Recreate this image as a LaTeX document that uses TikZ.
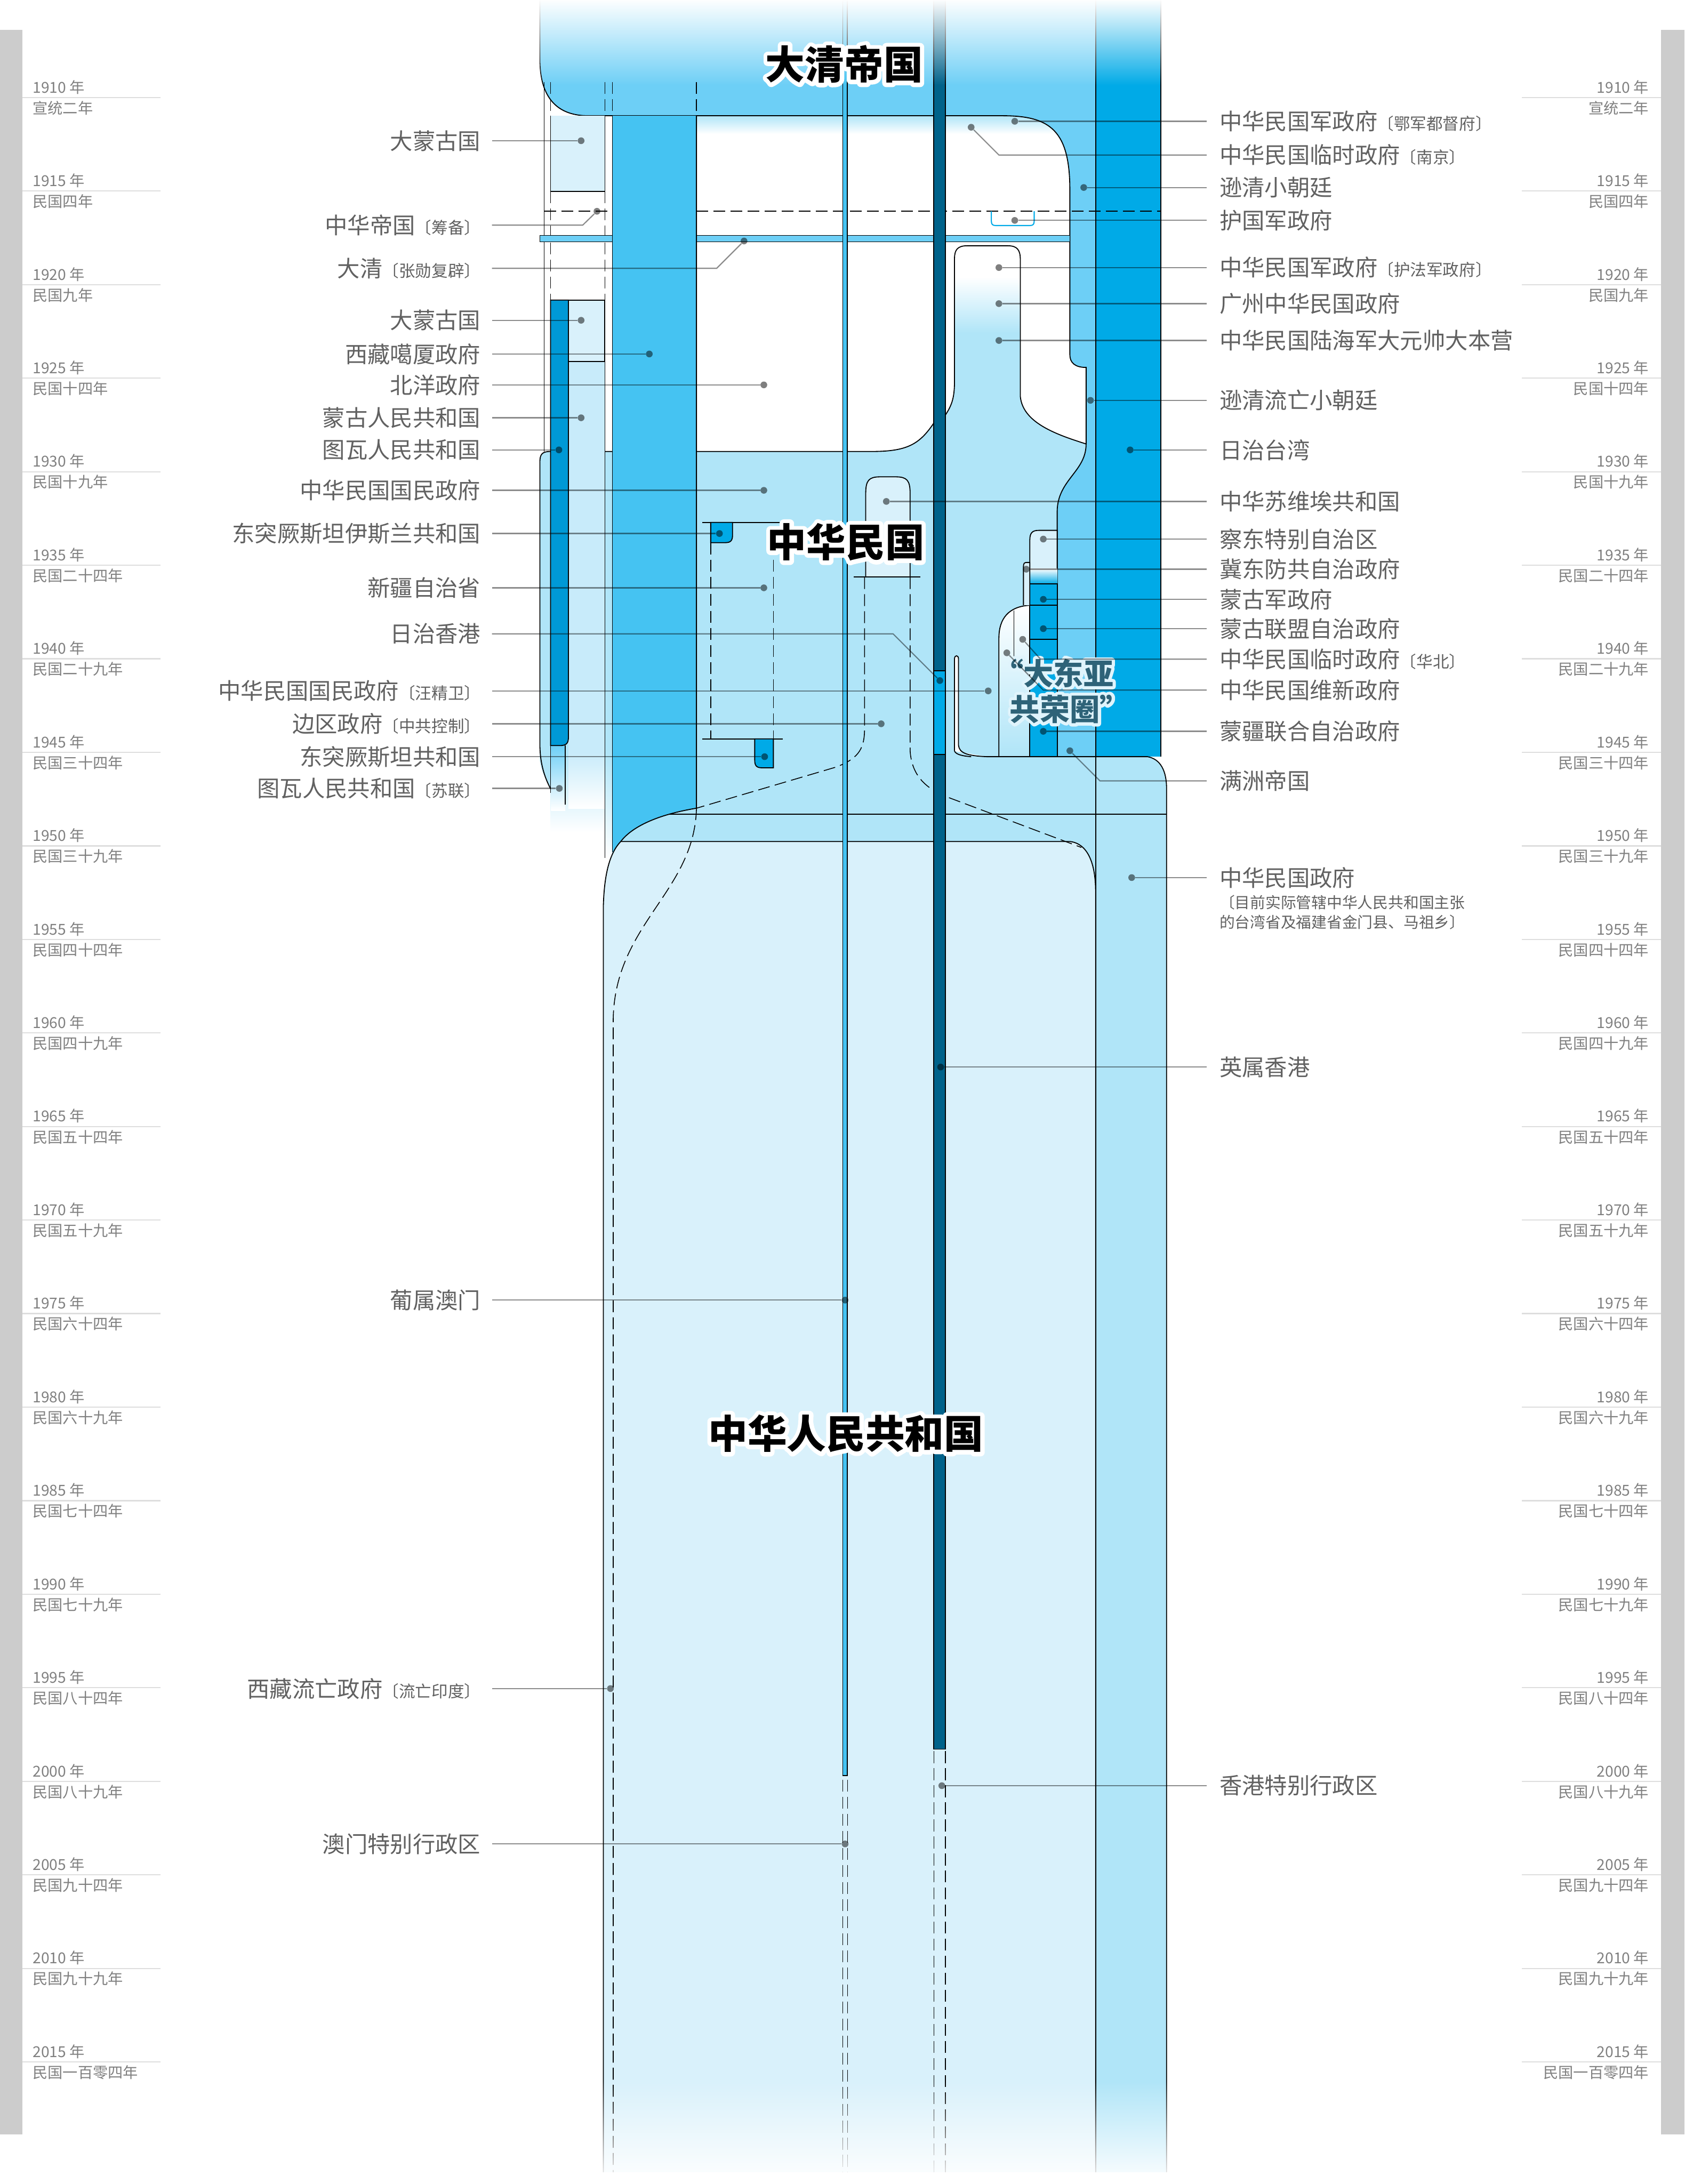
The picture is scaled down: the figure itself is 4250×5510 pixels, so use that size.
\documentclass[tikz,border=0pt]{standalone}
\usepackage{fontspec}
\usepackage{tikz}
\usetikzlibrary{fadings}
\newfontfamily\cjk{Noto Sans CJK SC}
\definecolor{qianLan}{HTML}{D9F1FB}
\definecolor{mengLan}{HTML}{C8EBFA}
\definecolor{minguoLan}{HTML}{B0E5F8}
\definecolor{qingLan}{HTML}{6DCFF6}
\definecolor{xizangLan}{HTML}{45C3F2}
\definecolor{taiwanLan}{HTML}{00AAE7}
\definecolor{tuwaLan}{HTML}{0099D6}
\definecolor{xianggangLan}{HTML}{00628A}
\definecolor{huiBian}{HTML}{CCCCCC}
\definecolor{gongrongZi}{HTML}{2E6378}
\definecolor{gongrongBian}{HTML}{E0F4FC}
\tikzfading[name=dingFade, top color=transparent!0, bottom color=transparent!100]
\tikzfading[name=diFade, top color=transparent!100, bottom color=transparent!0]
\newcommand{\kuohao}[1]{{\fontsize{11.7}{13}\selectfont〔#1〕}}
% 描边文字：宽度(bp)、描边颜色、文字
\newcommand{\miaobian}[3]{\leavevmode\rlap{\special{pdf:literal direct q 1 Tr #1 w 1 j 1 J}\textcolor{#2}{#3}\special{pdf:literal direct Q}}#3}

\begin{document}
\begin{tikzpicture}[
    x=0.01cm, y=-0.01cm,
    % 标注文字（左侧右对齐，右侧左对齐）
    biaoZuo/.style={anchor=east, inner xsep=0.28cm, inner ysep=0pt, text=black!62,
        font=\cjk\fontsize{16.2}{19}\selectfont},
    biaoYou/.style={anchor=west, inner xsep=0.32cm, inner ysep=0pt, text=black!62,
        font=\cjk\fontsize{16.2}{19}\selectfont},
    % 引线与圆点
    yuandian/.style={circle, fill=black, fill opacity=0.5, inner sep=0pt, minimum size=0.17cm},
    yinxian/.style={draw=black, draw opacity=0.45, line width=0.85pt},
    % 轮廓线
    lunkuo/.style={draw=black, line width=0.7pt},
    xiLun/.style={draw=black, line width=0.45pt},
    xuxian/.style={draw=black, line width=0.6pt, dash pattern=on 0.3cm off 0.13cm},
    % 年份刻度
    nianxian/.style={draw=black!13, line width=0.85pt},
    nianfen/.style={inner sep=0pt, text=black!50, font=\cjk\fontsize{10.8}{12}\selectfont},
    % 大字
    daBiao/.style={inner sep=0pt, font=\cjk\bfseries\fontsize{28.2}{30}\selectfont},
    gongrong/.style={inner sep=0pt, text=gongrongZi, font=\cjk\bfseries\fontsize{21.5}{24}\selectfont}
]

    % --- 画布与灰边 ---
    \useasboundingbox (0,0) rectangle (4250,5510);
    \fill[white] (0,0) rectangle (4250,5510);
    \fill[huiBian] (0,75) rectangle (57,5385);
    \fill[huiBian] (4190,75) rectangle (4250,5385);

    % --- 年份刻度（左右两侧） ---
    \foreach \nian/\minguo [count=\i from 0] in {1910/宣统二年,1915/民国四年,1920/民国九年,
        1925/民国十四年,1930/民国十九年,1935/民国二十四年,1940/民国二十九年,1945/民国三十四年,
        1950/民国三十九年,1955/民国四十四年,1960/民国四十九年,1965/民国五十四年,
        1970/民国五十九年,1975/民国六十四年,1980/民国六十九年,1985/民国七十四年,
        1990/民国七十九年,1995/民国八十四年,2000/民国八十九年,2005/民国九十四年,
        2010/民国九十九年,2015/民国一百零四年}{
        \pgfmathsetmacro{\yy}{246+236*\i}
        \draw[nianxian] (57,\yy) -- (405,\yy);
        \draw[nianxian] (3839,\yy) -- (4190,\yy);
        \node[nianfen, anchor=south west] (nz\i) at (82,{\yy-8}) {\nian\ 年};
        \node[nianfen, anchor=north west] (mz\i) at (82,{\yy+8}) {\minguo};
        \node[nianfen, anchor=south east] (ny\i) at (4160,{\yy-8}) {\nian\ 年};
        \node[nianfen, anchor=north east] (my\i) at (4160,{\yy+8}) {\minguo};
    }

    % --- 中华民国（国民政府及台湾） ---
    \fill[minguoLan] (1362,1165) .. controls (1362,1146) and (1368,1139) .. (1388,1139)
        -- (2200,1139) .. controls (2290,1139) and (2320,1120) .. (2356,1067)
        -- (2385,1047) .. controls (2403,1020) and (2408,1000) .. (2408,960)
        -- (2408,652) .. controls (2408,630) and (2416,620) .. (2440,620)
        -- (2542,620) .. controls (2566,620) and (2574,630) .. (2574,655)
        -- (2574,1000) .. controls (2580,1065) and (2660,1095) .. (2740,1120)
        -- (2740,1909) -- (2895,1909) .. controls (2928,1915) and (2943,1945) .. (2943,1990)
        -- (2943,5480) -- (1545,5480) -- (1545,1900) -- (1362,1900) -- cycle;
    \fill[minguoLan] (1362,1899) -- (1362,1920) .. controls (1366,1945) and (1376,1965) .. (1389,1990) -- (1389,1899) -- cycle;
    \shade[top color=minguoLan, bottom color=white] (1389,1899) rectangle (1526,2100);
    \shade[top color=minguoLan, bottom color=white] (1526,1899) rectangle (1545,2170);
    % 广州政府渐变
    \begin{scope}
        \clip (2408,1000) -- (2408,652) .. controls (2408,630) and (2416,620) .. (2440,620)
            -- (2542,620) .. controls (2566,620) and (2574,630) .. (2574,655) -- (2574,1000) -- cycle;
        \fill[white] (2400,610) rectangle (2580,700);
        \shade[top color=white, bottom color=minguoLan] (2400,699) rectangle (2580,840);
    \end{scope}
    \draw[lunkuo] (1389,1990) .. controls (1376,1965) and (1362,1930) .. (1362,1877)
        -- (1362,1165) .. controls (1362,1146) and (1368,1139) .. (1388,1139)
        -- (2200,1139) .. controls (2290,1139) and (2320,1120) .. (2356,1067)
        -- (2385,1047) .. controls (2403,1020) and (2408,1000) .. (2408,960)
        -- (2408,652) .. controls (2408,630) and (2416,620) .. (2440,620)
        -- (2542,620) .. controls (2566,620) and (2574,630) .. (2574,655)
        -- (2574,1000) .. controls (2580,1065) and (2660,1095) .. (2740,1120);

    % --- 北洋时期顶部渐变 ---
    \shade[top color=minguoLan, bottom color=white] (1757,292) rectangle (2699,338);

    % --- 大清帝国、逊清小朝廷、满洲帝国 ---
    \fill[qingLan] (1362,0) -- (1362,150) .. controls (1362,240) and (1400,292) .. (1484,292)
        -- (2530,292) .. controls (2650,292) and (2699,330) .. (2699,480)
        -- (2699,895) .. controls (2699,915) and (2712,927) .. (2740,927)
        -- (2740,1120) .. controls (2740,1190) and (2668,1210) .. (2667,1290)
        -- (2667,1909) -- (2764,1909) -- (2764,0) -- cycle;
    \draw[lunkuo] (1362,0) -- (1362,150) .. controls (1362,240) and (1400,292) .. (1484,292)
        -- (2530,292) .. controls (2650,292) and (2699,330) .. (2699,480)
        -- (2699,895) .. controls (2699,915) and (2712,927) .. (2740,927)
        -- (2740,1120) .. controls (2740,1190) and (2668,1210) .. (2667,1290)
        -- (2667,1909);

    % --- 日治台湾 ---
    \fill[taiwanLan] (2764,0) rectangle (2929,1909);
    \draw[lunkuo] (2764,0) -- (2764,5480);
    \draw[lunkuo] (2929,0) -- (2929,1909);

    % --- 华北、华中伪政权 ---
    \shade[top color=white, bottom color=minguoLan] (2520,1909) -- (2520,1610)
        .. controls (2520,1560) and (2545,1530) .. (2598,1527) -- (2598,1909) -- cycle;
    \draw[lunkuo] (2520,1909) -- (2520,1610) .. controls (2520,1560) and (2545,1530) .. (2598,1527);
    \draw[xiLun] (2558,1540) -- (2558,1680);
    \fill[white] (2408,1895) -- (2408,1662) .. controls (2408,1652) and (2418,1652) .. (2418,1662)
        -- (2418,1880) .. controls (2420,1900) and (2440,1907) .. (2490,1909) -- cycle;
    \draw[lunkuo] (2408,1895) -- (2408,1662) .. controls (2408,1652) and (2418,1652) .. (2418,1662)
        -- (2418,1880) .. controls (2420,1900) and (2440,1907) .. (2490,1909) -- (2895,1909)
        .. controls (2928,1915) and (2943,1945) .. (2943,1990) -- (2943,5480);
    \draw[lunkuo] (2408,1895) .. controls (2412,1903) and (2425,1907) .. (2450,1909);
    % 蒙疆一列
    \filldraw[fill=qianLan, lunkuo] (2598,1435) -- (2598,1362) .. controls (2598,1345) and (2604,1338) .. (2620,1338)
        -- (2667,1338) -- (2667,1435);
    \shade[top color=white, bottom color=taiwanLan] (2598,1435) rectangle (2667,1473);
    \filldraw[fill=taiwanLan, lunkuo] (2598,1473) rectangle (2667,1909);
    \draw[lunkuo] (2598,1527) -- (2667,1527);
    \draw[lunkuo] (2598,1613) -- (2667,1613);
    \filldraw[fill=qianLan, lunkuo] (2582,1527) -- (2582,1428) .. controls (2582,1421) and (2585,1419) .. (2590,1419) -- (2598,1419) -- (2598,1527);

    % --- 蒙古、图瓦 ---
    \fill[qianLan] (1389,292) rectangle (1526,483);
    \draw[lunkuo] (1389,292) -- (1389,483) -- (1526,483);
    \draw[xiLun] (1526,292) -- (1526,483);
    \draw[xiLun] (1373,207) -- (1373,1139);
    \fill[mengLan] (1434,912) rectangle (1526,1900);
    \shade[top color=mengLan, bottom color=white] (1434,1899) rectangle (1526,2040);
    \draw[xiLun] (1526,912) -- (1526,2165);
    \shade[top color=qingLan, bottom color=white] (1390,1880) rectangle (1426,2045);
    \draw[xiLun] (1426,1881) -- (1426,2030);
    \filldraw[fill=qianLan, lunkuo] (1434,757) rectangle (1526,912);
    \filldraw[fill=tuwaLan, lunkuo] (1389,757) -- (1434,757) -- (1434,1860)
        .. controls (1434,1876) and (1428,1881) .. (1412,1881) -- (1389,1881) -- cycle;
    \draw[lunkuo] (1389,1881) -- (1389,2000);
    \draw[xuxian] (1389,207) -- (1389,292);
    \draw[xuxian] (1526,207) -- (1526,292);
    \draw[xuxian] (1545,207) -- (1545,292);
    \draw[xuxian] (1757,207) -- (1757,292);
    \draw[xuxian] (1389,483) -- (1389,757);
    \draw[xuxian] (1526,483) -- (1526,757);

    % --- 张勋复辟 ---
    \fill[qingLan] (1362,594) rectangle (2699,610);
    \draw[lunkuo] (2699,594) -- (1362,594) -- (1362,610) -- (2699,610);

    % --- 西藏 ---
    \fill[xizangLan] (1545,292) -- (1757,292) -- (1757,2039)
        .. controls (1660,2055) and (1595,2085) .. (1566,2123)
        .. controls (1555,2140) and (1548,2155) .. (1545,2175) -- cycle;
    \draw[lunkuo] (1545,292) -- (1545,2150);
    \draw[lunkuo] (1757,292) -- (1757,2039) .. controls (1660,2055) and (1595,2085) .. (1566,2123);

    % --- 中华人民共和国 ---
    \fill[qianLan] (1522,5480) -- (1522,2290) .. controls (1524,2200) and (1540,2150) .. (1566,2123)
        -- (2699,2123) .. controls (2745,2128) and (2764,2180) .. (2764,2250) -- (2764,5480) -- cycle;
    \draw[lunkuo] (1522,5480) -- (1522,2290) .. controls (1524,2200) and (1540,2150) .. (1566,2123)
        -- (2699,2123) .. controls (2745,2128) and (2764,2180) .. (2764,2250) -- (2764,5480);
    \draw[lunkuo] (1690,2054) -- (2943,2054);

    % --- 中华苏维埃、边区 ---
    \filldraw[fill=qianLan, lunkuo] (2184,1455) -- (2184,1245) .. controls (2184,1212) and (2192,1203) .. (2220,1203)
        -- (2260,1203) .. controls (2288,1203) and (2296,1212) .. (2296,1245) -- (2296,1455);
    \draw[lunkuo] (2154,1455) -- (2322,1455);
    \draw[xuxian] (2181,1456) -- (2181,1840) .. controls (2181,1895) and (2160,1915) .. (2110,1935) -- (1757,2039);
    \draw[xuxian] (2296,1456) -- (2296,1894) .. controls (2300,1960) and (2340,1990) .. (2385,2009) -- (2728,2138);

    % --- 东突厥斯坦 ---
    \draw[lunkuo] (1772,1318) -- (1967,1318);
    \filldraw[fill=taiwanLan, lunkuo] (1793,1318) -- (1848,1318) -- (1848,1350)
        .. controls (1848,1364) and (1843,1369) .. (1830,1369) -- (1793,1369) -- cycle;
    \draw[xuxian] (1793,1369) -- (1793,1864);
    \draw[xuxian] (1951,1369) -- (1951,1864);
    \draw[lunkuo] (1772,1864) -- (1975,1864);
    \filldraw[fill=taiwanLan, lunkuo] (1904,1864) -- (1951,1864) -- (1951,1937) -- (1922,1937)
        .. controls (1909,1937) and (1904,1932) .. (1904,1918) -- cycle;

    % --- 洪宪帝制、护国军 ---
    \draw[xuxian] (1373,533) -- (1545,533);
    \draw[xuxian] (1757,533) -- (2929,533);
    \draw[taiwanLan, line width=0.8pt] (2501,533) -- (2501,558) .. controls (2501,566) and (2504,569) .. (2512,569)
        -- (2598,569) .. controls (2606,569) and (2609,566) .. (2609,558) -- (2609,533);

    % --- 澳门、香港 ---
    \filldraw[fill=xizangLan, lunkuo] (2126,0) rectangle (2138,4480);
    \draw[xuxian] (2126,4490) -- (2126,5480);
    \draw[xuxian] (2138,4490) -- (2138,5480);
    \filldraw[fill=xianggangLan, lunkuo] (2356,0) rectangle (2385,4413);
    \filldraw[fill=taiwanLan, lunkuo] (2356,1692) rectangle (2385,1903);
    \draw[xuxian] (2356,4418) -- (2356,5480);
    \draw[xuxian] (2385,4418) -- (2385,5480);

    % --- 西藏虚线 ---
    \draw[xuxian] (1757,2039) .. controls (1752,2250) and (1552,2330) .. (1547,2570) -- (1547,5480);

    % --- 上下渐隐 ---
    \fill[white, path fading=dingFade] (1340,-2) rectangle (2960,215);
    \fill[white, path fading=diFade] (1480,5250) rectangle (2970,5512);

    % --- 大字 ---
    \node[daBiao] (daqing) at (2130,162) {\miaobian{6}{white}{大清帝国}};
    \node[daBiao] (minguo) at (2134,1368) {\miaobian{6}{white}{中华民国}};
    \node[daBiao] (gonghe) at (2134,3617) {\miaobian{6}{white}{中华人民共和国}};
    \node[gongrong] (dadongya) at (2658,1698) {\miaobian{4.5}{gongrongBian}{“大东亚}};
    \node[gongrong] (gongrongq) at (2699,1789) {\miaobian{4.5}{gongrongBian}{共荣圈”}};

    % --- 左侧标注 ---
    \node[biaoZuo] (mgA) at (1241,355) {大蒙古国};
    \node[biaoZuo] (huadi) at (1241,568) {中华帝国\kuohao{筹备}};
    \node[biaoZuo] (zhangxun) at (1241,677) {大清\kuohao{张勋复辟}};
    \node[biaoZuo] (mgB) at (1241,808) {大蒙古国};
    \node[biaoZuo] (xizang) at (1241,893) {西藏噶厦政府};
    \node[biaoZuo] (beiyang) at (1241,971) {北洋政府};
    \node[biaoZuo] (mgren) at (1241,1054) {蒙古人民共和国};
    \node[biaoZuo] (tuwa) at (1241,1135) {图瓦人民共和国};
    \node[biaoZuo] (guomin) at (1241,1237) {中华民国国民政府};
    \node[biaoZuo] (dongtuA) at (1241,1346) {东突厥斯坦伊斯兰共和国};
    \node[biaoZuo] (xinjiang) at (1241,1483) {新疆自治省};
    \node[biaoZuo] (rizhiHK) at (1241,1599) {日治香港};
    \node[biaoZuo] (wangjw) at (1241,1743) {中华民国国民政府\kuohao{汪精卫}};
    \node[biaoZuo] (bianqu) at (1241,1826) {边区政府\kuohao{中共控制}};
    \node[biaoZuo] (dongtuB) at (1241,1909) {东突厥斯坦共和国};
    \node[biaoZuo] (tuwaSU) at (1241,1989) {图瓦人民共和国\kuohao{苏联}};
    \node[biaoZuo] (aomen) at (1241,3280) {葡属澳门};
    \node[biaoZuo] (xzliuwang) at (1241,4260) {西藏流亡政府\kuohao{流亡印度}};
    \node[biaoZuo] (aomenSAR) at (1241,4652) {澳门特别行政区};

    \node[yuandian] (dMgA) at (1466,355) {};
    \node[yuandian] (dHuadi) at (1506,533) {};
    \node[yuandian] (dZhangxun) at (1877,608) {};
    \node[yuandian] (dMgB) at (1466,808) {};
    \node[yuandian] (dXizang) at (1638,893) {};
    \node[yuandian] (dBeiyang) at (1927,971) {};
    \node[yuandian] (dMgren) at (1466,1054) {};
    \node[yuandian] (dTuwa) at (1410,1135) {};
    \node[yuandian] (dGuomin) at (1927,1237) {};
    \node[yuandian] (dDongtuA) at (1815,1346) {};
    \node[yuandian] (dXinjiang) at (1927,1483) {};
    \node[yuandian] (dRizhiHK) at (2371,1717) {};
    \node[yuandian] (dWangjw) at (2493,1743) {};
    \node[yuandian] (dBianqu) at (2223,1826) {};
    \node[yuandian] (dDongtuB) at (1929,1909) {};
    \node[yuandian] (dTuwaSU) at (1411,1989) {};
    \node[yuandian] (dAomen) at (2132,3280) {};
    \node[yuandian] (dXzliuwang) at (1540,4260) {};
    \node[yuandian] (dAomenSAR) at (2132,4652) {};

    \coordinate (zHuadi) at (1470,568);
    \coordinate (zZhangxun) at (1808,677);
    \coordinate (zRizhiHK) at (2253,1599);

    \draw[yinxian] (mgA.east) -- (dMgA);
    \draw[yinxian] (huadi.east) -- (zHuadi) -- (dHuadi);
    \draw[yinxian] (zhangxun.east) -- (zZhangxun) -- (dZhangxun);
    \draw[yinxian] (mgB.east) -- (dMgB);
    \draw[yinxian] (xizang.east) -- (dXizang);
    \draw[yinxian] (beiyang.east) -- (dBeiyang);
    \draw[yinxian] (mgren.east) -- (dMgren);
    \draw[yinxian] (tuwa.east) -- (dTuwa);
    \draw[yinxian] (guomin.east) -- (dGuomin);
    \draw[yinxian] (dongtuA.east) -- (dDongtuA);
    \draw[yinxian] (xinjiang.east) -- (dXinjiang);
    \draw[yinxian] (rizhiHK.east) -- (zRizhiHK) -- (dRizhiHK);
    \draw[yinxian] (wangjw.east) -- (dWangjw);
    \draw[yinxian] (bianqu.east) -- (dBianqu);
    \draw[yinxian] (dongtuB.east) -- (dDongtuB);
    \draw[yinxian] (tuwaSU.east) -- (dTuwaSU);
    \draw[yinxian] (aomen.east) -- (dAomen);
    \draw[yinxian] (xzliuwang.east) -- (dXzliuwang);
    \draw[yinxian] (aomenSAR.east) -- (dAomenSAR);

    % --- 右侧标注 ---
    \node[biaoYou] (ejun) at (3044,306) {中华民国军政府\kuohao{鄂军都督府}};
    \node[biaoYou] (nanjing) at (3044,391) {中华民国临时政府\kuohao{南京}};
    \node[biaoYou] (xunqing) at (3044,473) {逊清小朝廷};
    \node[biaoYou] (huguo) at (3044,556) {护国军政府};
    \node[biaoYou] (hufa) at (3044,675) {中华民国军政府\kuohao{护法军政府}};
    \node[biaoYou] (guangzhou) at (3044,766) {广州中华民国政府};
    \node[biaoYou] (dabenying) at (3044,859) {中华民国陆海军大元帅大本营};
    \node[biaoYou] (xqliuwang) at (3044,1010) {逊清流亡小朝廷};
    \node[biaoYou] (rizhiTW) at (3044,1135) {日治台湾};
    \node[biaoYou] (suwei) at (3044,1265) {中华苏维埃共和国};
    \node[biaoYou] (chadong) at (3044,1360) {察东特别自治区};
    \node[biaoYou] (jidong) at (3044,1436) {冀东防共自治政府};
    \node[biaoYou] (mgjun) at (3044,1512) {蒙古军政府};
    \node[biaoYou] (mglianmeng) at (3044,1586) {蒙古联盟自治政府};
    \node[biaoYou] (huabei) at (3044,1663) {中华民国临时政府\kuohao{华北}};
    \node[biaoYou] (weixin) at (3044,1741) {中华民国维新政府};
    \node[biaoYou] (mengjiang) at (3044,1845) {蒙疆联合自治政府};
    \node[biaoYou] (manzhou) at (3044,1970) {满洲帝国};
    \node[biaoYou] (zhmgzf) at (3044,2214) {中华民国政府};
    \node[biaoYou, anchor=north west, align=left, font=\cjk\fontsize{11}{14}\selectfont]
        (zhmgzfSub) at (3044,2258) {〔目前实际管辖中华人民共和国主张\\的台湾省及福建省金门县、马祖乡〕};
    \node[biaoYou] (yingHK) at (3044,2692) {英属香港};
    \node[biaoYou] (hkSAR) at (3044,4505) {香港特别行政区};

    \node[yuandian] (dEjun) at (2560,306) {};
    \node[yuandian] (dNanjing) at (2450,321) {};
    \node[yuandian] (dXunqing) at (2734,473) {};
    \node[yuandian] (dHuguo) at (2560,556) {};
    \node[yuandian] (dHufa) at (2520,675) {};
    \node[yuandian] (dGuangzhou) at (2520,766) {};
    \node[yuandian] (dDabenying) at (2520,859) {};
    \node[yuandian] (dXqliuwang) at (2751,1010) {};
    \node[yuandian] (dRizhiTW) at (2851,1135) {};
    \node[yuandian] (dSuwei) at (2236,1265) {};
    \node[yuandian] (dChadong) at (2632,1360) {};
    \node[yuandian] (dJidong) at (2589,1436) {};
    \node[yuandian] (dMgjun) at (2632,1512) {};
    \node[yuandian] (dMglianmeng) at (2632,1586) {};
    \node[yuandian] (dHuabei) at (2580,1613) {};
    \node[yuandian] (dWeixin) at (2540,1647) {};
    \node[yuandian] (dMengjiang) at (2632,1845) {};
    \node[yuandian] (dManzhou) at (2699,1894) {};
    \node[yuandian] (dZhmgzf) at (2855,2214) {};
    \node[yuandian] (dYingHK) at (2373,2692) {};
    \node[yuandian] (dHkSAR) at (2376,4505) {};

    \coordinate (zNanjing) at (2520,391);
    \coordinate (zHuabei) at (2625,1663);
    \coordinate (zWeixin) at (2632,1741);
    \coordinate (zManzhou) at (2775,1970);

    \draw[yinxian] (dEjun) -- (ejun.west);
    \draw[yinxian] (dNanjing) -- (zNanjing) -- (nanjing.west);
    \draw[yinxian] (dXunqing) -- (xunqing.west);
    \draw[yinxian] (dHuguo) -- (huguo.west);
    \draw[yinxian] (dHufa) -- (hufa.west);
    \draw[yinxian] (dGuangzhou) -- (guangzhou.west);
    \draw[yinxian] (dDabenying) -- (dabenying.west);
    \draw[yinxian] (dXqliuwang) -- (xqliuwang.west);
    \draw[yinxian] (dRizhiTW) -- (rizhiTW.west);
    \draw[yinxian] (dSuwei) -- (suwei.west);
    \draw[yinxian] (dChadong) -- (chadong.west);
    \draw[yinxian] (dJidong) -- (jidong.west);
    \draw[yinxian] (dMgjun) -- (mgjun.west);
    \draw[yinxian] (dMglianmeng) -- (mglianmeng.west);
    \draw[yinxian] (dHuabei) -- (zHuabei) -- (huabei.west);
    \draw[yinxian] (dWeixin) -- (zWeixin) -- (weixin.west);
    \draw[yinxian] (dMengjiang) -- (mengjiang.west);
    \draw[yinxian] (dManzhou) -- (zManzhou) -- (manzhou.west);
    \draw[yinxian] (dZhmgzf) -- (zhmgzf.west);
    \draw[yinxian] (dYingHK) -- (yingHK.west);
    \draw[yinxian] (dHkSAR) -- (hkSAR.west);

\end{tikzpicture}
\end{document}
